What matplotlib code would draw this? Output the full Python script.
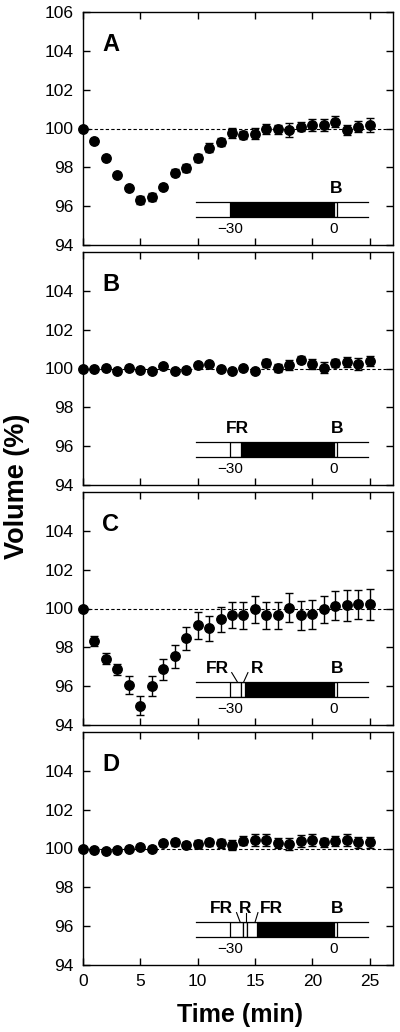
import matplotlib
matplotlib.use("Agg")
import matplotlib.pyplot as plt
from matplotlib.patches import Rectangle
import numpy as np

plt.rcParams['font.family'] = ['Liberation Sans', 'DejaVu Sans']

time_min = list(range(26))

vol_A = [100.0, 99.36, 98.47, 97.63, 96.96, 96.31, 96.48, 97.01, 97.73, 97.97,
         98.47, 99.02, 99.31, 99.78, 99.66, 99.74, 99.97, 99.95, 99.91, 100.10,
         100.19, 100.19, 100.36, 99.93, 100.10, 100.19]
err_A = [0.0, 0.1, 0.1, 0.1, 0.1, 0.2, 0.2, 0.15, 0.2, 0.2,
         0.2, 0.25, 0.2, 0.25, 0.2, 0.3, 0.25, 0.25, 0.35, 0.25,
         0.3, 0.3, 0.3, 0.25, 0.3, 0.35]

vol_B = [99.97, 99.97, 100.05, 99.88, 100.05, 99.93, 99.85, 100.12, 99.88, 99.90,
         100.17, 100.22, 100.0, 99.85, 100.05, 99.88, 100.29, 100.02, 100.17, 100.46,
         100.22, 100.05, 100.27, 100.34, 100.22, 100.40]
err_B = [0.0, 0.05, 0.05, 0.05, 0.05, 0.05, 0.05, 0.05, 0.05, 0.05,
         0.05, 0.05, 0.1, 0.1, 0.1, 0.05, 0.2, 0.2, 0.25, 0.2,
         0.25, 0.3, 0.2, 0.25, 0.3, 0.25]

vol_C = [100.0, 98.32, 97.42, 96.86, 96.07, 95.0, 96.01, 96.86, 97.54, 98.47,
         99.14, 98.97, 99.45, 99.67, 99.66, 99.95, 99.64, 99.64, 100.05, 99.64,
         99.71, 99.95, 100.14, 100.17, 100.22, 100.22]
err_C = [0.0, 0.25, 0.3, 0.3, 0.45, 0.5, 0.5, 0.55, 0.6, 0.6,
         0.7, 0.65, 0.65, 0.65, 0.7, 0.7, 0.7, 0.7, 0.75, 0.75,
         0.75, 0.7, 0.75, 0.8, 0.75, 0.8]

vol_D = [99.97, 99.90, 99.85, 99.90, 100.0, 100.09, 100.0, 100.26, 100.31, 100.19,
         100.22, 100.31, 100.26, 100.17, 100.41, 100.45, 100.45, 100.27, 100.22, 100.38,
         100.43, 100.31, 100.38, 100.45, 100.31, 100.31]
err_D = [0.0, 0.05, 0.05, 0.05, 0.05, 0.1, 0.15, 0.15, 0.2, 0.15,
         0.2, 0.2, 0.25, 0.25, 0.25, 0.3, 0.3, 0.25, 0.3, 0.3,
         0.3, 0.25, 0.25, 0.3, 0.3, 0.3]

panel_letters = ['A', 'B', 'C', 'D']
series = [(vol_A, err_A), (vol_B, err_B), (vol_C, err_C), (vol_D, err_D)]

# light-treatment schematics (minutes relative to blue pulse at 0)
dark_start = [-30.0, -27.0, -25.8, -22.3]
pulses = [
    [('B', 0.0, 0.8)],
    [('FR', -30.0, -27.0), ('B', 0.0, 0.8)],
    [('FR', -30.0, -26.8), ('R', -26.8, -25.8), ('B', 0.0, 0.8)],
    [('FR', -30.0, -26.2), ('R', -26.2, -25.2), ('FR', -25.2, -22.3), ('B', 0.0, 0.8)],
]
label_x = [
    [0.6],
    [-28.0, 0.8],
    [-33.6, -22.3, 0.8],
    [-32.6, -25.7, -18.0, 0.8],
]
connectors = [
    [],
    [],
    [(-29.6, -28.0), (-24.9, -26.1)],
    [(-28.2, -27.2), (-25.6, -25.6), (-22.0, -22.8)],
]
sch_ticks = [-30, 0]
sch_tick_labels = ['\u221230', '0']

fig = plt.figure(figsize=(4.0, 10.32), dpi=100)
left, width, height = 83 / 400, 309.5 / 400, 233 / 1032
bottoms_px = [245, 485, 725, 965]

for i in range(4):
    ax = fig.add_axes([left, 1 - bottoms_px[i] / 1032, width, height])
    vol, err = series[i]
    ax.axhline(100, color='black', lw=0.8, ls=(0, (3, 2)), zorder=1)
    ax.errorbar(time_min, vol, yerr=err, fmt='o', color='black', ms=6.8,
                elinewidth=1.0, capsize=2.8, capthick=1.0, zorder=3, clip_on=False)
    ax.set_xlim(0, 27)
    ax.set_ylim(94, 106)
    ax.set_xticks([0, 5, 10, 15, 20, 25])
    if i == 0:
        ax.set_yticks([94, 96, 98, 100, 102, 104, 106])
    else:
        ax.set_yticks([94, 96, 98, 100, 102, 104])
    ax.tick_params(direction='in', length=5, width=1, top=True, right=True,
                   labelsize=12.5, pad=6.5)
    if i < 3:
        ax.tick_params(labelbottom=False)
    for s in ax.spines.values():
        s.set_linewidth(1.0)
    ax.text(2.4, 104.35, panel_letters[i], fontsize=17, fontweight='bold',
            ha='center', va='center')

    # schematic inset
    ins = ax.inset_axes([9.84, 95.45, 15.06, 0.78], transform=ax.transData)
    ins.set_xlim(-40, 10)
    ins.set_ylim(0, 1)
    ins.axis('off')
    ins.patch.set_alpha(0)
    ins.plot([-40, 10], [1, 1], color='black', lw=0.9, clip_on=False)
    ins.plot([-40, 10], [0, 0], color='black', lw=0.9, clip_on=False)
    ins.add_patch(Rectangle((dark_start[i], 0), 0 - dark_start[i], 1,
                            facecolor='black', edgecolor='black', lw=0.9))
    for j, (name, a, b) in enumerate(pulses[i]):
        ins.add_patch(Rectangle((a, 0), b - a, 1, facecolor='white',
                                edgecolor='black', lw=0.9))
        ins.text(label_x[i][j], 1.6, name, fontsize=12.5, fontweight='bold',
                 ha='center', va='baseline')
    for (xt, xb) in connectors[i]:
        ins.plot([xt, xb], [1.6, 1.0], color='black', lw=0.8, clip_on=False)
    for t, lab in zip(sch_ticks, sch_tick_labels):
        ins.text(t, -0.35, lab, fontsize=11, ha='center', va='top')

fig.text(0.043, 0.529, 'Volume (%)', rotation=90, fontsize=19.5, fontweight='bold',
         ha='center', va='center')
fig.text(0.6, 1 - 1015 / 1032, 'Time (min)', fontsize=18, fontweight='bold',
         ha='center', va='center')

fig.savefig('out.png', dpi=100)
